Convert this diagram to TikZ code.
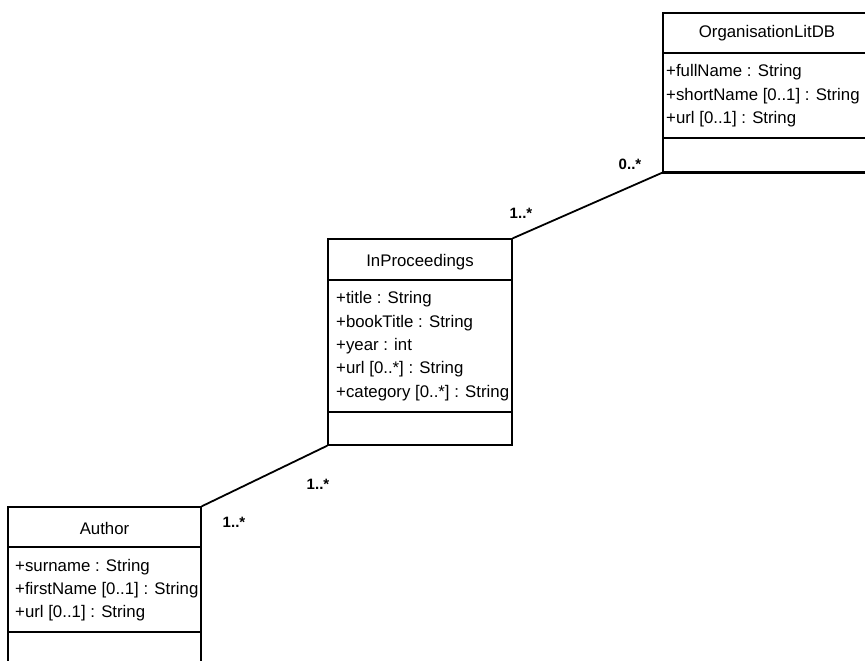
\documentclass[tikz,border=0pt]{standalone}
\usepackage{fontspec}
\setmainfont{Liberation Sans}
\begin{document}
\begin{tikzpicture}[x=1pt,y=-1pt,
  classbox/.style={draw=black,line width=1.3pt,rectangle,inner sep=0pt},
  sepline/.style={draw=black,line width=1.3pt},
  assoc/.style={draw=black,line width=1.8pt},
  cname/.style={font=\fontsize{16.8}{19}\selectfont,inner sep=0pt},
  attr/.style={font=\fontsize{16.8}{19}\selectfont,anchor=west,inner sep=0pt},
  mult/.style={font=\bfseries\fontsize{15}{17}\selectfont,inner sep=0pt}]
\useasboundingbox (0,0) rectangle (865,661);
\fill[white] (0,0) rectangle (865,661);

% OrganisationLitDB
\node[classbox,minimum width=208pt,minimum height=159pt] (org) at (767,92.5) {};
\draw[line width=2.6pt] (org.south west) -- (org.south east);
\coordinate (orgsep1) at (663,53);
\coordinate (orgsep2) at (663,138);
\draw[sepline] (orgsep1) -- (orgsep1 -| org.east);
\draw[sepline] (orgsep2) -- (orgsep2 -| org.east);
\node[cname] (orgname) at (767,33) {OrganisationLitDB};
\node[attr] (org1) at (666,72) {+fullName : String};
\node[attr] (org2) at (666,96) {+shortName [0..1] : String};
\node[attr] (org3) at (666,119) {+url [0..1] : String};

% InProceedings
\node[classbox,minimum width=184pt,minimum height=206pt] (inp) at (420,342) {};
\coordinate (inpsep1) at (328,280);
\coordinate (inpsep2) at (328,412);
\draw[sepline] (inpsep1) -- (inpsep1 -| inp.east);
\draw[sepline] (inpsep2) -- (inpsep2 -| inp.east);
\node[cname] (inpname) at (420,262) {InProceedings};
\node[attr] (inp1) at (336,299) {+title : String};
\node[attr] (inp2) at (336,323) {+bookTitle : String};
\node[attr] (inp3) at (336,346) {+year : int};
\node[attr] (inp4) at (336,369) {+url [0..*] : String};
\node[attr] (inp5) at (336,393) {+category [0..*] : String};

% Author
\node[classbox,minimum width=193pt,minimum height=173pt] (aut) at (104.5,593.5) {};
\coordinate (autsep1) at (8,547);
\coordinate (autsep2) at (8,632);
\draw[sepline] (autsep1) -- (autsep1 -| aut.east);
\draw[sepline] (autsep2) -- (autsep2 -| aut.east);
\node[cname] (autname) at (104.5,528) {Author};
\node[attr] (aut1) at (15,567) {+surname : String};
\node[attr] (aut2) at (15,590) {+firstName [0..1] : String};
\node[attr] (aut3) at (15,613) {+url [0..1] : String};

% Associations
\draw[assoc] (inp.north east) -- (org.south west);
\draw[assoc] (inp.south west) -- (aut.north east);

% Multiplicities
\node[mult] (m1) at (630,164) {0..*};
\node[mult] (m2) at (521,213) {1..*};
\node[mult] (m3) at (318,484) {1..*};
\node[mult] (m4) at (234,522) {1..*};
\end{tikzpicture}
\end{document}
